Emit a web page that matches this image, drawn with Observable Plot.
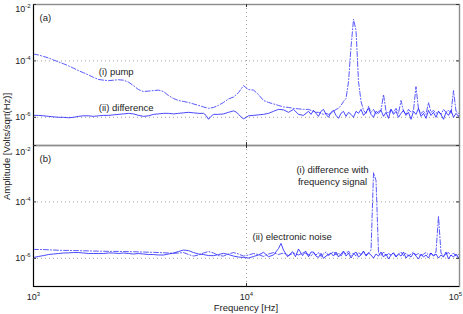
<!DOCTYPE html>
<html>
<head>
<meta charset="utf-8">
<script src="https://cdn.jsdelivr.net/npm/d3@7"></script>
<script src="https://cdn.jsdelivr.net/npm/@observablehq/plot@0.6"></script>
<style>
  html, body { margin: 0; padding: 0; background: #fff; }
  #chart svg { display: block; }
</style>
</head>
<body>
<div id="chart"></div>
<script>
// ---------- axis ticks & titles ----------
const xTicks = [1e3, 1e4, 1e5];
const yTicks = [1e-2, 1e-4, 1e-6];
const xTitle = "Frequency [Hz]";
const yTitle = "Amplitude [Volts/sqrt(Hz)]";
const panels = ["a", "b"];
const panelTags = ["(a)", "(b)"];
const seriesNamesA = ["(i) pump", "(ii) difference"];
const seriesNamesB = ["(i) difference with\nfrequency signal", "(ii) electronic noise"];

// ---------- frequencies (Hz) ----------
const lowFreqHz = [1000,1055,1114,1176,1241,1310,1383,1460,1541,1627,1717,1812,1913,2019,2131,2250,2375,2507,2646,2793,
  2948,3112,3285,3467,3660,3863,4077,4304,4543,4795,5061,5342,5639,5952,6283,6632,7000,7389,7799,8232,
  8690,9172,9681,10220,10790,11380,12020,12690,13390,14130,14920,15750,16620,17550,18520];
const aDiffFreqHz = [1000,1055,1114,1176,1241,1310,1383,1460,1541,1627,1717,1812,1913,2019,2131,2250,2375,2507,2646,2793,
  2948,3112,3285,3467,3660,3863,4077,4304,4543,4795,5061,5342,5639,5952,6283,6456,6632,6814,7000,7389,
  7799,8232,8690,8990,9172,9475,9681,10000,10220,10790,11380,12020,12690,13390,14130,14920,15750,16620,17550,18520];
const bNoiseFreqHz = [1000,1055,1114,1176,1241,1310,1383,1460,1541,1627,1717,1812,1913,2019,2131,2250,2375,2507,2646,2793,
  2948,3112,3285,3467,3660,3863,4077,4304,4543,4795,5061,5342,5639,5952,6283,6632,7000,7389,7799,8232,
  8690,9172,9681,10220,10790,11380,12020,12690,13390,14130,14520,14920,15580,16450,16980,17550,18330,18930];
const hiFreqHz = [19550,20090,20640,21200,21780,22380,22990,23620,24270,24930,25620,26320,27040,27780,28540,29320,30130,30950,31800,32670,
  33570,34490,35430,36400,37400,38430,39480,40560,41670,42810,43980,45190,46420,47700,49000,50340,51720,53140,54600,56090,
  57630,59210,60810,62480,64200,65960,67760,69620,71530,73490,75490,77560,79690,81870,84110,86420,88790,91220,93720,96290,
  98930,100000];

// ---------- amplitudes (µV/sqrt(Hz)) ----------
// panel (a): (i) pump, dash-dot
const aPumpLow_uV = [176,162,144,127,108,92,79,67,55,45,38,32,26,22,20.7,19.9,20.7,21.5,20.7,17.6,
  13.3,9.6,8.2,8.5,8.85,9.2,8.2,5.9,4.64,3.95,3.64,3.36,2.98,2.64,2.33,2.07,2.24,2.64,3.36,4.46,
  5.24,7.5,13.3,9.6,9.2,6.41,3.95,3.36,2.98,2.64,2.33,2.24,2.07,1.99,1.91];
const aPumpHi_uV = [1.91,1.76,1.63,1.50,1.50,1.38,1.27,1.38,1.27,1.38,1.63,1.91,2.07,2.64,3.64,4.64,18.3,310,2980,1220,
  18.3,3.64,1.76,1.38,2.43,1.50,1.91,1.27,1.63,1.76,6.41,1.63,1.38,1.91,1.50,2.07,1.38,3.95,1.63,1.27,
  1.91,1.50,1.76,12.2,1.91,1.38,1.63,1.27,3.36,1.50,1.76,1.38,1.63,1.27,1.91,1.50,1.76,1.38,8.85,1.63,
  1.38,1.50];
// panel (a): (ii) difference, solid
const aDiffLow_uV = [1.17,1.17,1.13,1.08,1.04,1.00,1.00,0.96,1.00,1.08,1.13,1.13,1.08,1.13,1.17,1.17,1.22,1.27,1.32,1.38,
  1.32,1.17,1.08,1.13,1.27,1.32,1.38,1.38,1.32,1.38,1.44,1.50,1.44,1.38,1.38,1.17,0.85,1.08,1.27,1.27,
  1.32,1.50,1.69,1.50,1.27,1.00,0.89,1.00,1.13,1.17,1.22,1.27,1.38,1.63,1.91,1.84,1.50,1.91,1.27,1.17];
const aDiffHi_uV = [1.63,1.27,1.76,1.38,1.08,1.63,1.91,1.27,1.00,1.50,1.76,1.17,0.92,1.38,1.63,1.08,1.50,1.27,1.00,1.63,
  1.38,1.91,1.17,1.50,2.07,1.27,1.00,1.63,1.38,1.76,1.08,1.50,0.92,1.91,1.27,1.63,1.00,1.38,1.76,1.17,
  1.50,0.85,1.63,1.27,2.07,1.08,1.38,0.92,1.76,1.17,1.50,1.00,1.63,1.27,0.85,1.50,1.17,1.76,1.00,1.38,
  1.08,1.27];
// panel (b): (i) difference with frequency signal, dash-dot
const bSignalLow_uV = [2.07,2.05,2.04,2.00,1.96,1.93,1.91,1.90,1.88,1.87,1.85,1.83,1.81,1.79,1.78,1.76,1.76,1.75,1.74,1.72,
  1.71,1.69,1.67,1.64,1.63,1.60,1.58,1.54,1.50,1.54,1.60,1.36,1.20,1.31,1.54,1.74,1.54,1.25,1.20,1.42,
  1.60,1.42,1.20,1.31,1.48,1.36,1.16,1.42,1.60,1.36,1.54,1.25,1.54,1.31,1.60];
const bSignalHi_uV = [1.36,1.20,1.54,1.31,1.60,1.16,1.42,1.67,1.25,1.48,1.74,1.31,1.54,1.20,1.67,1.42,1.81,1.25,1.54,1.20,
  1.60,1.36,1.74,1.31,1.54,1.96,1090,570,1.54,1.25,1.67,1.20,1.48,1.31,1.60,1.16,1.42,1.67,1.25,1.54,
  1.20,1.42,1.67,1.31,1.48,1.16,1.42,1.60,1.31,1.54,1.20,1.67,30.8,1.54,1.20,1.42,1.60,1.25,1.54,1.20,
  1.36,1.31];
// panel (b): (ii) electronic noise, solid
const bNoiseLow_uV = [1.07,1.16,1.25,1.36,1.42,1.48,1.54,1.56,1.60,1.60,1.54,1.48,1.48,1.48,1.48,1.54,1.54,1.48,1.54,1.48,
  1.42,1.48,1.42,1.36,1.36,1.31,1.31,1.42,1.54,1.74,1.96,1.88,1.60,1.42,1.36,1.25,1.24,1.36,1.50,1.36,
  1.20,1.11,1.07,1.02,1.16,1.31,1.63,1.14,1.31,2.21,3.37,1.96,1.14,1.71,1.14,2.13,1.24,1.81];
const bNoiseHi_uV = [1.14,1.67,1.67,1.20,1.07,1.50,1.00,1.20,1.36,1.54,1.20,1.67,1.11,1.42,1.81,1.20,1.54,1.02,1.42,1.67,
  1.11,1.31,1.81,1.20,1.54,1.31,1.02,1.42,1.20,1.67,1.11,1.42,0.94,1.31,1.54,1.11,1.42,1.20,1.67,1.02,
  1.31,1.11,1.54,1.20,0.94,1.42,1.11,1.31,1.02,1.54,1.20,1.42,1.02,1.31,1.11,1.67,0.94,1.31,1.11,1.42,
  1.02,1.20];

// ---------- build table ----------
const rows = [];
function addSeries(panel, style, freqs, ampsMicro) {
  freqs.forEach((f, i) => rows.push({panel, style, key: panel + "-" + style, f, a: ampsMicro[i] * 1e-6}));
}
addSeries("a", "dashdot", lowFreqHz.concat(hiFreqHz), aPumpLow_uV.concat(aPumpHi_uV));
addSeries("a", "solid", aDiffFreqHz.concat(hiFreqHz), aDiffLow_uV.concat(aDiffHi_uV));
addSeries("b", "dashdot", lowFreqHz.concat(hiFreqHz), bSignalLow_uV.concat(bSignalHi_uV));
addSeries("b", "solid", bNoiseFreqHz.concat(hiFreqHz), bNoiseLow_uV.concat(bNoiseHi_uV));

const fmt = d => "10^" + Math.round(Math.log10(d));
const txt = "#222";
const fontFamily = "'Liberation Sans', Arial, Helvetica, sans-serif";

const chart = Plot.plot({
  width: 463,
  height: 314,
  marginTop: 3,
  marginBottom: 28,
  marginLeft: 33,
  marginRight: 4,
  style: {fontFamily, fontSize: "9px", color: txt, background: "#fff", overflow: "visible"},
  x: {type: "log", domain: [1e3, 1e5]},
  y: {type: "log", domain: [1e-7, 1e-2]},
  fy: {domain: panels, padding: 0, axis: null, label: null},
  marks: [
    Plot.gridY([yTicks[1], yTicks[2]], {stroke: "#8a8a8a", strokeOpacity: 1, strokeWidth: 0.8, strokeDasharray: "1,3"}),
    Plot.gridX([xTicks[1]], {stroke: "#8a8a8a", strokeOpacity: 1, strokeWidth: 0.8, strokeDasharray: "1,3"}),
    Plot.line(rows.filter(d => d.style === "dashdot"), {
      x: "f", y: "a", fy: "panel", z: "key",
      stroke: "#4646ff", strokeWidth: 0.9, strokeDasharray: "5,2,1,2"
    }),
    Plot.line(rows.filter(d => d.style === "solid"), {
      x: "f", y: "a", fy: "panel", z: "key",
      stroke: "#1a1aff", strokeWidth: 0.8
    }),
    Plot.frame({stroke: "#8c8c8c", strokeWidth: 1.4}),
    Plot.ruleX([xTicks[0]], {stroke: "#000", strokeWidth: 1}),
    Plot.ruleY([{v: 1e-7, panel: "b"}], {y: "v", fy: "panel", stroke: "#000", strokeWidth: 1}),
    Plot.tickY(yTicks, {insetRight: 423, stroke: "#333"}),
    Plot.tickY(yTicks, {insetLeft: 423, stroke: "#333"}),
    Plot.tickX([xTicks[1]], {insetTop: 138, stroke: "#333"}),
    Plot.tickX([xTicks[1]], {insetBottom: 138, stroke: "#333"}),
    Plot.axisY({ticks: yTicks, tickSize: 0, tickPadding: 3, tickFormat: fmt, label: null, fill: txt}),
    Plot.axisX({ticks: xTicks, tickSize: 0, tickPadding: 7, tickFormat: fmt, label: null, fill: txt}),
    Plot.text(panels.map((p, i) => ({panel: p, t: panelTags[i]})), {
      fy: "panel", text: "t", frameAnchor: "top-left", dx: 6, dy: 13,
      lineAnchor: "middle", textAnchor: "start", fontSize: 9.5, fill: txt
    }),
    Plot.text([
      {panel: "a", t: seriesNamesA[0], f: 2026, a: 3.9e-5},
      {panel: "a", t: seriesNamesA[1], f: 2026, a: 2.12e-6},
      {panel: "b", t: seriesNamesB[1], f: 10670, a: 5.6e-6}
    ], {fy: "panel", x: "f", y: "a", text: "t", textAnchor: "start", lineAnchor: "middle", fontSize: 9.5, fill: txt}),
    Plot.text([
      {panel: "b", t: seriesNamesB[0], f: 25340, a: 8.6e-4}
    ], {fy: "panel", x: "f", y: "a", text: "t", textAnchor: "middle", lineAnchor: "middle", lineHeight: 1.26, fontSize: 9.5, fill: txt})
  ]
});

document.getElementById("chart").append(chart);
const svg = chart.tagName.toLowerCase() === "svg" ? chart : chart.querySelector("svg");

// superscript exponents on tick labels
const topLabels = [];
let lastX = null;
d3.select(svg).selectAll("text").each(function() {
  const m = /^10\^(-?\d+)$/.exec(this.textContent);
  if (!m) return;
  this.textContent = "10";
  const ts = document.createElementNS("http://www.w3.org/2000/svg", "tspan");
  ts.setAttribute("font-size", "6");
  ts.setAttribute("dy", "-4");
  ts.textContent = m[1];
  this.appendChild(ts);
  if (m[1] === "-2") topLabels.push(this);
  if (m[1] === "5") lastX = this;
});
const shifts = [4.5, 7];
topLabels.forEach((el, i) => {
  const t = el.getAttribute("transform") || "";
  el.setAttribute("transform", t + " translate(0," + (shifts[i] || 0) + ")");
});
if (lastX) {
  const t = lastX.getAttribute("transform") || "";
  lastX.setAttribute("transform", t + " translate(-4,0)");
}

// axis titles
const s = d3.select(svg);
s.append("text")
  .attr("transform", "translate(10.3,146.5) rotate(-90)")
  .attr("text-anchor", "middle")
  .attr("font-size", 9.5)
  .attr("font-family", fontFamily)
  .attr("fill", txt)
  .text(yTitle);
s.append("text")
  .attr("x", 246)
  .attr("y", 310.5)
  .attr("text-anchor", "middle")
  .attr("font-size", 9.5)
  .attr("font-family", fontFamily)
  .attr("fill", txt)
  .text(xTitle);
</script>
</body>
</html>
